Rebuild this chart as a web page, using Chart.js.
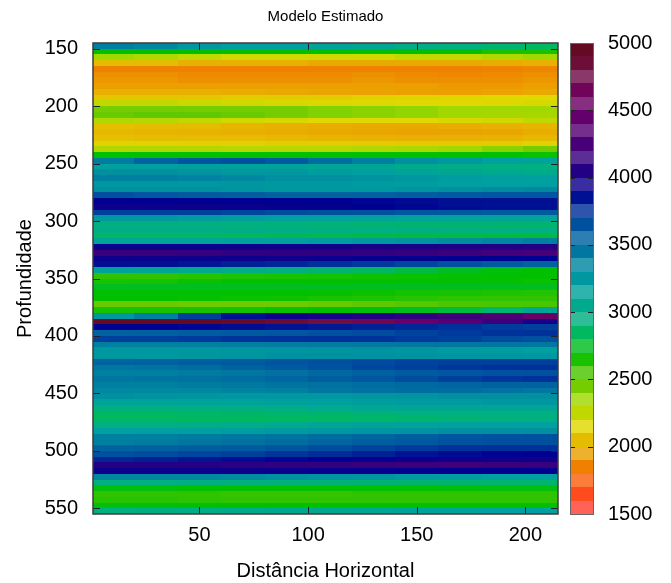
<!DOCTYPE html>
<html>
<head>
<meta charset="utf-8">
<script src="https://cdn.jsdelivr.net/npm/chart.js@4.4.1/dist/chart.umd.min.js"></script>
<style>
  html, body { margin: 0; padding: 0; background: #fff; }
</style>
</head>
<body>
<canvas id="c" width="671" height="583"></canvas>
<script>
// column centres (Distância Horizontal) and row centres (Profundidade)
const distancia = [10, 30, 50, 70, 90, 110, 130, 150, 170, 190, 208];
const profundidade = [
  147.5,152.5,157.5,162.5,167.5,172.5,177.5,182.5,187.5,192.5,
  197.5,202.5,207.5,212.5,217.5,222.5,227.5,232.5,237.5,242.5,
  247.5,252.5,257.5,262.5,267.5,272.5,277.5,282.5,287.5,292.5,
  297.5,302.5,307.5,312.5,317.5,322.5,327.5,332.5,337.5,342.5,
  347.5,352.5,357.5,362.5,367.5,372.5,377.5,382.5,387.5,392.5,
  397.5,402.5,407.5,412.5,417.5,422.5,427.5,432.5,437.5,442.5,
  447.5,452.5,457.5,462.5,467.5,472.5,477.5,482.5,487.5,492.5,
  497.5,502.5,507.5,512.5,517.5,522.5,527.5,532.5,537.5,542.5,
  547.5,552.5
];

// estimated velocity, one row per depth, one value per column
const velocidade = [
  [3400,3350,3250,3200,3200,3150,3100,3000,2950,2900,2850],
  [2700,2700,2700,2700,2700,2700,2700,2700,2700,2650,2650],
  [2350,2300,2250,2200,2200,2200,2200,2250,2250,2300,2350],
  [2050,2050,2000,2000,2000,1980,1980,1980,1980,1990,2000],
  [1850,1850,1850,1850,1850,1850,1850,1850,1850,1860,1870],
  [1900,1900,1880,1880,1880,1880,1900,1880,1870,1880,1900],
  [1920,1920,1900,1900,1900,1900,1920,1900,1900,1900,1920],
  [1950,1950,1950,1950,1950,1950,1950,1950,1930,1930,1950],
  [2000,2000,2000,1990,1980,1970,1960,1950,1950,1960,1980],
  [2080,2080,2080,2100,2100,2100,2120,2130,2140,2150,2150],
  [2250,2250,2220,2200,2180,2170,2160,2150,2150,2160,2180],
  [2450,2450,2450,2450,2450,2420,2400,2380,2350,2350,2350],
  [2480,2500,2500,2480,2450,2420,2400,2380,2350,2330,2330],
  [2300,2280,2250,2200,2180,2150,2150,2150,2180,2200,2250],
  [2060,2050,2040,2020,2000,1990,1980,1980,1990,2000,2020],
  [2030,2020,2010,2000,1990,1980,1970,1960,1960,1970,1990],
  [2060,2050,2050,2040,2030,2020,2010,2000,2000,2010,2030],
  [2130,2130,2120,2120,2110,2110,2100,2100,2100,2110,2130],
  [2300,2300,2300,2280,2280,2280,2300,2320,2350,2400,2450],
  [2700,2700,2700,2700,2700,2700,2700,2700,2700,2700,2680],
  [3420,3550,3630,3650,3600,3500,3400,3300,3250,3200,3150],
  [3200,3200,3180,3150,3150,3120,3100,3050,3000,2950,2950],
  [3300,3300,3280,3250,3250,3220,3200,3150,3100,3080,3050],
  [3400,3400,3380,3350,3300,3300,3280,3250,3220,3200,3200],
  [3250,3250,3250,3250,3250,3250,3230,3220,3200,3200,3200],
  [3300,3300,3300,3280,3250,3250,3250,3280,3300,3330,3350],
  [3650,3620,3600,3580,3550,3550,3560,3580,3600,3620,3620],
  [3900,3900,3900,3900,3900,3900,3880,3870,3850,3850,3850],
  [3950,3950,3950,3940,3930,3920,3900,3880,3860,3850,3850],
  [3700,3700,3700,3680,3660,3650,3640,3620,3610,3600,3600],
  [3250,3250,3230,3220,3200,3200,3180,3170,3160,3150,3150],
  [2950,2950,2950,2940,2930,2920,2910,2900,2900,2900,2900],
  [3000,3000,3000,3000,2990,2980,2970,2960,2950,2950,2950],
  [2850,2850,2850,2840,2830,2820,2810,2800,2800,2800,2800],
  [3150,3150,3150,3180,3200,3220,3250,3280,3320,3360,3400],
  [3950,3950,3950,3960,3970,3980,4000,4010,4030,4040,4050],
  [4150,4150,4130,4100,4100,4100,4120,4150,4180,4220,4250],
  [3950,3950,3950,3950,3950,3940,3930,3920,3910,3900,3900],
  [3850,3850,3830,3800,3780,3750,3720,3680,3640,3600,3550],
  [3150,3100,3050,3000,2950,2900,2850,2800,2750,2720,2700],
  [2600,2600,2620,2640,2650,2660,2670,2680,2690,2700,2700],
  [2650,2660,2680,2700,2700,2700,2700,2700,2700,2690,2680],
  [2750,2750,2750,2750,2750,2750,2750,2750,2750,2750,2750],
  [2700,2700,2700,2700,2700,2690,2680,2660,2650,2640,2630],
  [2700,2700,2690,2680,2670,2650,2640,2620,2610,2600,2600],
  [2480,2480,2470,2470,2470,2480,2500,2520,2540,2550,2550],
  [2650,2650,2650,2660,2680,2700,2720,2750,2800,2900,3100],
  [3250,3400,3700,3850,3950,4000,4050,4100,4200,4300,4500],
  [4950,4950,4950,4920,4870,4800,4700,4500,4350,4150,4000],
  [3900,3900,3880,3860,3840,3820,3800,3780,3750,3720,3700],
  [3550,3560,3580,3600,3620,3640,3660,3690,3720,3740,3750],
  [3700,3700,3720,3740,3750,3750,3740,3720,3700,3670,3650],
  [3400,3400,3400,3410,3420,3430,3440,3450,3450,3450,3450],
  [3250,3250,3250,3260,3270,3280,3280,3260,3240,3220,3200],
  [3250,3250,3260,3280,3300,3300,3290,3280,3270,3260,3250],
  [3550,3560,3580,3600,3630,3650,3670,3690,3700,3700,3700],
  [3450,3470,3500,3550,3600,3640,3680,3700,3730,3750,3750],
  [3400,3400,3420,3450,3480,3520,3560,3600,3620,3640,3650],
  [3450,3460,3480,3500,3540,3580,3620,3660,3700,3730,3750],
  [3400,3400,3420,3440,3460,3480,3500,3520,3540,3550,3550],
  [3350,3350,3350,3380,3400,3450,3480,3500,3500,3480,3450],
  [3300,3280,3260,3250,3250,3250,3260,3280,3300,3300,3300],
  [3150,3150,3150,3160,3180,3200,3220,3230,3240,3250,3250],
  [2950,2950,2960,2980,3000,3050,3080,3100,3100,3100,3100],
  [2850,2850,2860,2870,2880,2900,2920,2940,2950,2950,2950],
  [2850,2850,2850,2850,2850,2860,2880,2900,2920,2940,2950],
  [2950,2950,2980,3000,3050,3100,3130,3160,3180,3200,3200],
  [3200,3200,3200,3220,3230,3250,3260,3280,3300,3300,3300],
  [3400,3400,3420,3440,3460,3500,3540,3580,3620,3640,3650],
  [3400,3420,3450,3480,3500,3540,3580,3610,3640,3650,3650],
  [3550,3560,3580,3600,3630,3660,3690,3720,3740,3750,3750],
  [3650,3660,3680,3700,3730,3760,3800,3840,3870,3890,3900],
  [3780,3800,3830,3860,3880,3900,3920,3940,3950,3950,3950],
  [4050,4050,4060,4080,4100,4120,4150,4180,4200,4180,4150],
  [3950,3950,3950,3950,3940,3930,3920,3910,3900,3900,3900],
  [3350,3350,3350,3330,3300,3280,3260,3240,3220,3200,3200],
  [2950,2950,2950,2940,2930,2920,2910,2900,2900,2900,2900],
  [2720,2720,2700,2700,2700,2700,2700,2700,2710,2720,2720],
  [2600,2600,2600,2590,2590,2590,2600,2600,2600,2600,2600],
  [2620,2620,2610,2600,2600,2600,2600,2600,2600,2600,2600],
  [2720,2720,2710,2700,2700,2700,2700,2700,2700,2700,2700],
  [2950,2980,3000,3050,3080,3100,3120,3150,3170,3190,3200]
];

const xTicks = [50, 100, 150, 200];
const yTicks = [150, 200, 250, 300, 350, 400, 450, 500, 550];
const cbTicks = [1500, 2000, 2500, 3000, 3500, 4000, 4500, 5000];

// colour palette (value -> rgb)
const palette = [
  [1500, [255, 60, 60]], [1700, [255, 80, 20]], [1850, [240, 128, 0]],
  [2000, [232, 176, 0]], [2150, [224, 216, 0]], [2350, [160, 216, 0]],
  [2500, [96, 200, 0]], [2700, [0, 192, 0]], [2850, [0, 184, 96]],
  [2950, [0, 176, 128]], [3200, [0, 160, 160]], [3400, [0, 128, 160]],
  [3650, [0, 80, 160]], [3900, [0, 0, 144]], [4100, [48, 0, 128]],
  [4400, [96, 0, 112]], [4600, [112, 0, 96]], [4800, [112, 16, 64]],
  [5000, [96, 8, 24]]
];

function rgbFor(v) {
  if (v <= palette[0][0]) return palette[0][1];
  for (let i = 1; i < palette.length; i++) {
    const [v1, c1] = palette[i];
    if (v <= v1) {
      const [v0, c0] = palette[i - 1];
      const t = (v - v0) / (v1 - v0);
      return c0.map((c, k) => c + (c1[k] - c) * t);
    }
  }
  return palette[palette.length - 1][1];
}
const css = c => `rgb(${c.map(Math.round).join(',')})`;

const xMin = 1, xMax = 215, yMin = 145, yMax = 555;
const cells = [];
profundidade.forEach((d, i) => {
  distancia.forEach((x, j) => {
    const x0 = j === 0 ? xMin : (distancia[j - 1] + x) / 2;
    const x1 = j === distancia.length - 1 ? xMax : (x + distancia[j + 1]) / 2;
    cells.push({ x, y: d, v: velocidade[i][j], x0, x1, y0: d - 2.5, y1: d + 2.5 });
  });
});

const FONT = 'Liberation Sans, Arial, sans-serif';

const heatmap = {
  id: 'heatmap',
  beforeDatasetsDraw(chart) {
    const { ctx, chartArea: a, scales: { x, y } } = chart;
    ctx.save();
    ctx.beginPath();
    ctx.rect(a.left, a.top, a.right - a.left, a.bottom - a.top);
    ctx.clip();
    chart.data.datasets[0].data.forEach(c => {
      const px0 = Math.round(x.getPixelForValue(c.x0)), px1 = Math.round(x.getPixelForValue(c.x1));
      const py0 = Math.round(y.getPixelForValue(c.y0)), py1 = Math.round(y.getPixelForValue(c.y1));
      ctx.fillStyle = css(rgbFor(c.v));
      ctx.fillRect(px0, py0, px1 - px0, py1 - py0);
    });
    ctx.restore();
  },
  afterDraw(chart) {
    const { ctx, chartArea: a, scales: { x, y, cb } } = chart;
    ctx.save();
    // inward tick marks
    ctx.strokeStyle = '#222';
    ctx.lineWidth = 1;
    ctx.beginPath();
    yTicks.forEach(v => {
      const py = Math.round(y.getPixelForValue(v)) + 0.5;
      ctx.moveTo(a.left, py); ctx.lineTo(a.left + 7, py);
      ctx.moveTo(a.right, py); ctx.lineTo(a.right - 7, py);
    });
    xTicks.forEach(v => {
      const px = Math.round(x.getPixelForValue(v)) + 0.5;
      ctx.moveTo(px, a.bottom); ctx.lineTo(px, a.bottom - 7);
      ctx.moveTo(px, a.top); ctx.lineTo(px, a.top + 7);
    });
    ctx.stroke();
    // frame
    ctx.strokeStyle = '#3c3c3c';
    ctx.lineWidth = 1.5;
    ctx.strokeRect(a.left, a.top, a.right - a.left, a.bottom - a.top);

    // colour bar
    const bx = a.right + 12, bw = 23;
    for (let k = 0; k < 35; k++) {
      const v0 = 1500 + k * 100;
      const t = Math.round(cb.getPixelForValue(v0 + 100)), b = Math.round(cb.getPixelForValue(v0));
      let c = rgbFor(v0 + 50);
      if (k % 2 === 0 && k < 34) c = c.map(ch => ch + (255 - ch) * 0.18);
      ctx.fillStyle = css(c);
      ctx.fillRect(bx, t, bw, b - t);
    }
    ctx.strokeStyle = '#222';
    ctx.lineWidth = 1;
    ctx.beginPath();
    cbTicks.slice(1, -1).forEach(v => {
      const py = Math.round(cb.getPixelForValue(v)) + 0.5;
      ctx.moveTo(bx, py); ctx.lineTo(bx + 5, py);
      ctx.moveTo(bx + bw, py); ctx.lineTo(bx + bw - 5, py);
    });
    ctx.stroke();
    ctx.strokeStyle = '#666';
    ctx.strokeRect(bx + 0.5, a.top + 0.5, bw, a.bottom - a.top);

    // title
    ctx.fillStyle = '#000';
    ctx.font = `15px ${FONT}`;
    ctx.textAlign = 'center';
    ctx.textBaseline = 'middle';
    ctx.fillText('Modelo Estimado', (a.left + a.right) / 2, 17);
    ctx.restore();
  }
};

const tickFont = { family: FONT, size: 20 };
const titleFont = { family: FONT, size: 20 };
const plain = v => String(v);

new Chart(document.getElementById('c'), {
  type: 'scatter',
  data: {
    datasets: [{ data: cells, pointRadius: 0, pointHoverRadius: 0 }]
  },
  options: {
    responsive: false,
    animation: false,
    layout: { padding: { top: 43, left: 0, right: 0, bottom: 0 } },
    plugins: { legend: { display: false }, tooltip: { enabled: false } },
    scales: {
      x: {
        type: 'linear', position: 'bottom', min: xMin, max: xMax,
        afterBuildTicks: s => { s.ticks = xTicks.map(v => ({ value: v })); },
        afterFit: s => { s.height = 69; },
        grid: { display: false }, border: { display: false },
        ticks: { padding: 1, color: '#000', font: tickFont, maxRotation: 0, autoSkip: false, callback: plain },
        title: { display: true, text: 'Distância Horizontal', color: '#000', font: titleFont, padding: { top: 0, bottom: 0 } }
      },
      y: {
        type: 'linear', position: 'left', reverse: true, min: yMin, max: yMax,
        afterBuildTicks: s => { s.ticks = yTicks.map(v => ({ value: v })); },
        afterFit: s => { s.width = 93; },
        grid: { display: false }, border: { display: false },
        ticks: { padding: 7, color: '#000', font: tickFont, autoSkip: false, callback: plain },
        title: { display: true, text: 'Profundidade', color: '#000', font: titleFont, padding: { top: 13, bottom: 0 } }
      },
      cb: {
        type: 'linear', position: 'right', min: 1500, max: 5000,
        afterBuildTicks: s => { s.ticks = cbTicks.map(v => ({ value: v })); },
        afterFit: s => { s.width = 113; },
        grid: { display: false, tickLength: 50 }, border: { display: false },
        ticks: { padding: 0, color: '#000', font: tickFont, autoSkip: false, callback: plain }
      }
    }
  },
  plugins: [heatmap]
});
</script>
</body>
</html>
